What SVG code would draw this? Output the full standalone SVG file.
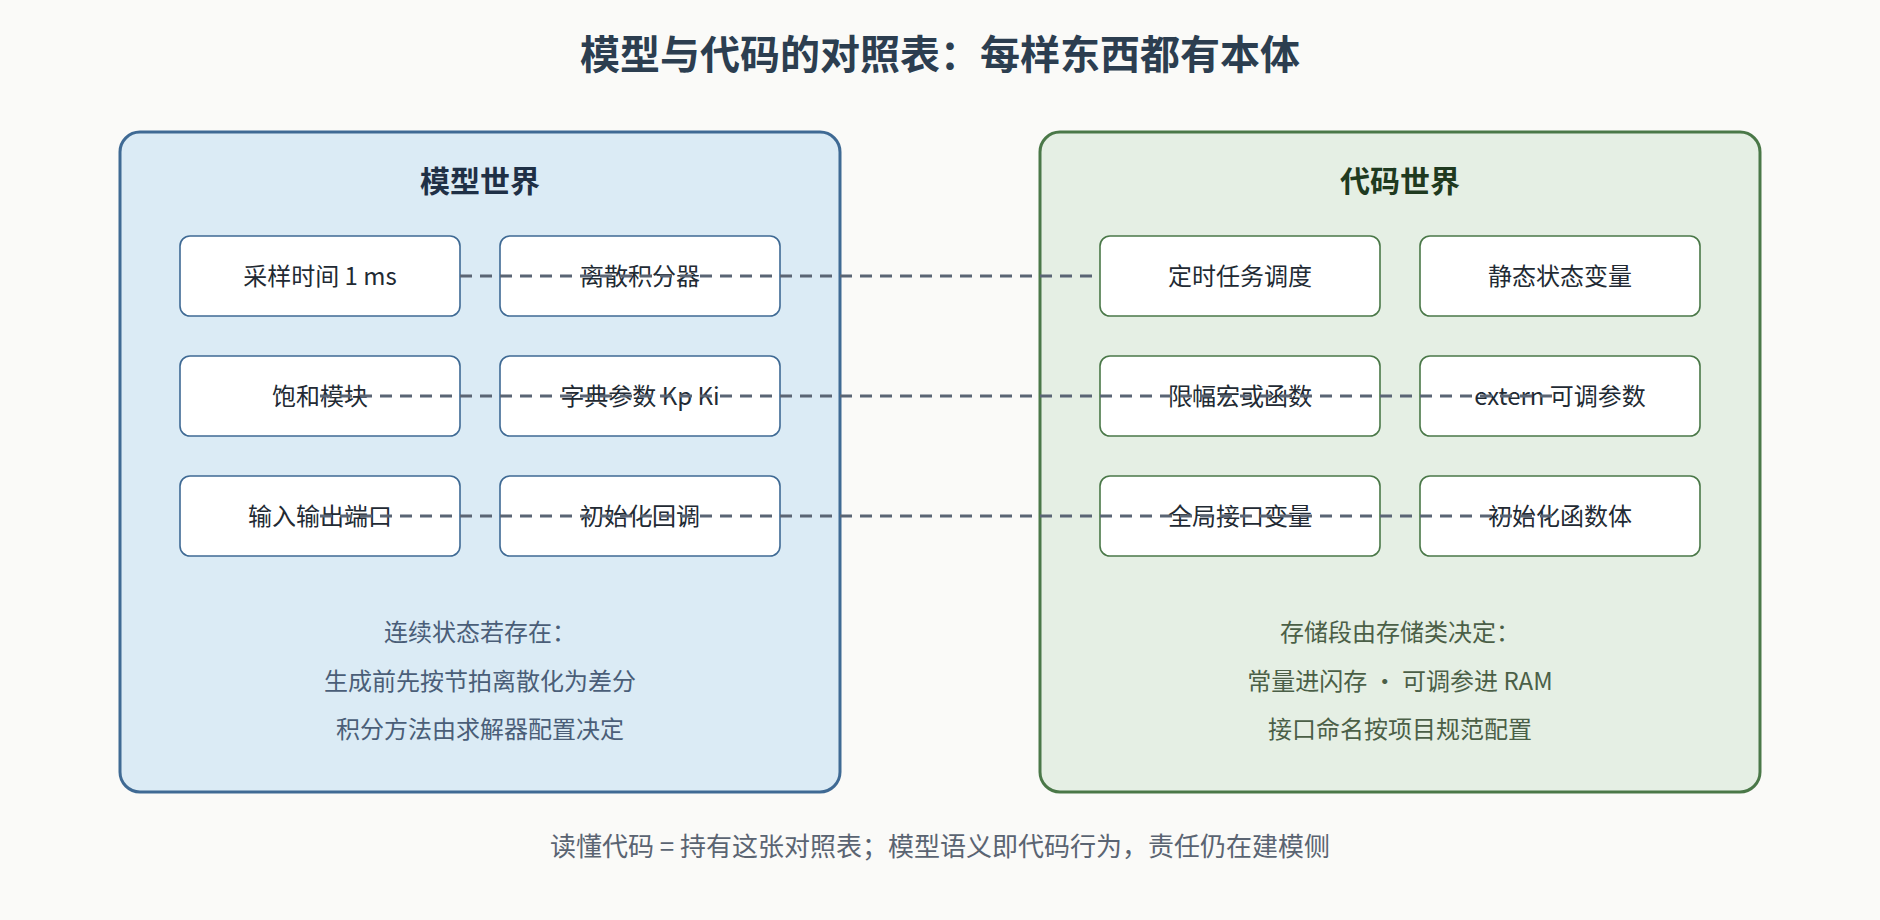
<svg xmlns="http://www.w3.org/2000/svg" width="1880" height="920" viewBox="0 0 1880 920">
  <style>
    text { font-family: "Noto Sans CJK SC", "Noto Sans", sans-serif; text-anchor: middle; }
    .title { font-size: 40px; font-weight: 700; fill: #2c3e50; }
    .ptitle { font-size: 30px; font-weight: 700; }
    .lt { fill: #1f3046; }
    .rt { fill: #1f3a1f; }
    .box-m { fill: #ffffff; stroke: #3f6a94; stroke-width: 1.6; }
    .box-c { fill: #ffffff; stroke: #4a7848; stroke-width: 1.6; }
    .bt { font-size: 24px; fill: #222a33; }
    .note-m { font-size: 24px; fill: #4a5e78; }
    .note-c { font-size: 24px; fill: #4b5f47; }
    .foot { font-size: 26px; fill: #5a6472; }
    .conn { stroke: #5a6574; stroke-width: 3.2; stroke-dasharray: 12 8; fill: none; }
  </style>
  <rect x="0" y="0" width="1880" height="920" fill="#fafaf8"/>
  <text class="title" x="940" y="69">模型与代码的对照表：每样东西都有本体</text>

  <g id="panel-model">
    <rect x="120" y="132" width="720" height="660" rx="20" fill="#dbebf5" stroke="#3f6a94" stroke-width="3"/>
    <text class="ptitle lt" x="480" y="192">模型世界</text>
  </g>
  <g id="panel-code">
    <rect x="1040" y="132" width="720" height="660" rx="20" fill="#e5efe4" stroke="#4a7848" stroke-width="3"/>
    <text class="ptitle rt" x="1400" y="192">代码世界</text>
  </g>

  <g id="m-sample"><rect class="box-m" x="180" y="236" width="280" height="80" rx="10"/><text class="bt" x="320" y="285">采样时间 1 ms</text></g>
  <g id="m-integrator"><rect class="box-m" x="500" y="236" width="280" height="80" rx="10"/><text class="bt" x="640" y="285">离散积分器</text></g>
  <g id="m-saturation"><rect class="box-m" x="180" y="356" width="280" height="80" rx="10"/><text class="bt" x="320" y="405">饱和模块</text></g>
  <g id="m-params"><rect class="box-m" x="500" y="356" width="280" height="80" rx="10"/><text class="bt" x="640" y="405">字典参数 Kp Ki</text></g>
  <g id="m-ports"><rect class="box-m" x="180" y="476" width="280" height="80" rx="10"/><text class="bt" x="320" y="525">输入输出端口</text></g>
  <g id="m-init"><rect class="box-m" x="500" y="476" width="280" height="80" rx="10"/><text class="bt" x="640" y="525">初始化回调</text></g>

  <g id="c-task"><rect class="box-c" x="1100" y="236" width="280" height="80" rx="10"/><text class="bt" x="1240" y="285">定时任务调度</text></g>
  <g id="c-state"><rect class="box-c" x="1420" y="236" width="280" height="80" rx="10"/><text class="bt" x="1560" y="285">静态状态变量</text></g>
  <g id="c-limit"><rect class="box-c" x="1100" y="356" width="280" height="80" rx="10"/><text class="bt" x="1240" y="405">限幅宏或函数</text></g>
  <g id="c-extern"><rect class="box-c" x="1420" y="356" width="280" height="80" rx="10"/><text class="bt" x="1560" y="405">extern 可调参数</text></g>
  <g id="c-global"><rect class="box-c" x="1100" y="476" width="280" height="80" rx="10"/><text class="bt" x="1240" y="525">全局接口变量</text></g>
  <g id="c-initfn"><rect class="box-c" x="1420" y="476" width="280" height="80" rx="10"/><text class="bt" x="1560" y="525">初始化函数体</text></g>

  <g id="notes-model">
    <text class="note-m" x="480" y="641">连续状态若存在：</text>
    <text class="note-m" x="480" y="690">生成前先按节拍离散化为差分</text>
    <text class="note-m" x="480" y="738">积分方法由求解器配置决定</text>
  </g>
  <g id="notes-code">
    <text class="note-c" x="1400" y="641">存储段由存储类决定：</text>
    <text class="note-c" x="1400" y="690">常量进闪存 · 可调参进 RAM</text>
    <text class="note-c" x="1400" y="738">接口命名按项目规范配置</text>
  </g>

  <g id="connectors">
    <line class="conn" x1="460" y1="276" x2="1100" y2="276"/>
    <line class="conn" x1="320" y1="396" x2="1560" y2="396"/>
    <line class="conn" x1="320" y1="516" x2="1560" y2="516"/>
  </g>

  <text class="foot" x="940" y="856">读懂代码 = 持有这张对照表；模型语义即代码行为，责任仍在建模侧</text>
</svg>
